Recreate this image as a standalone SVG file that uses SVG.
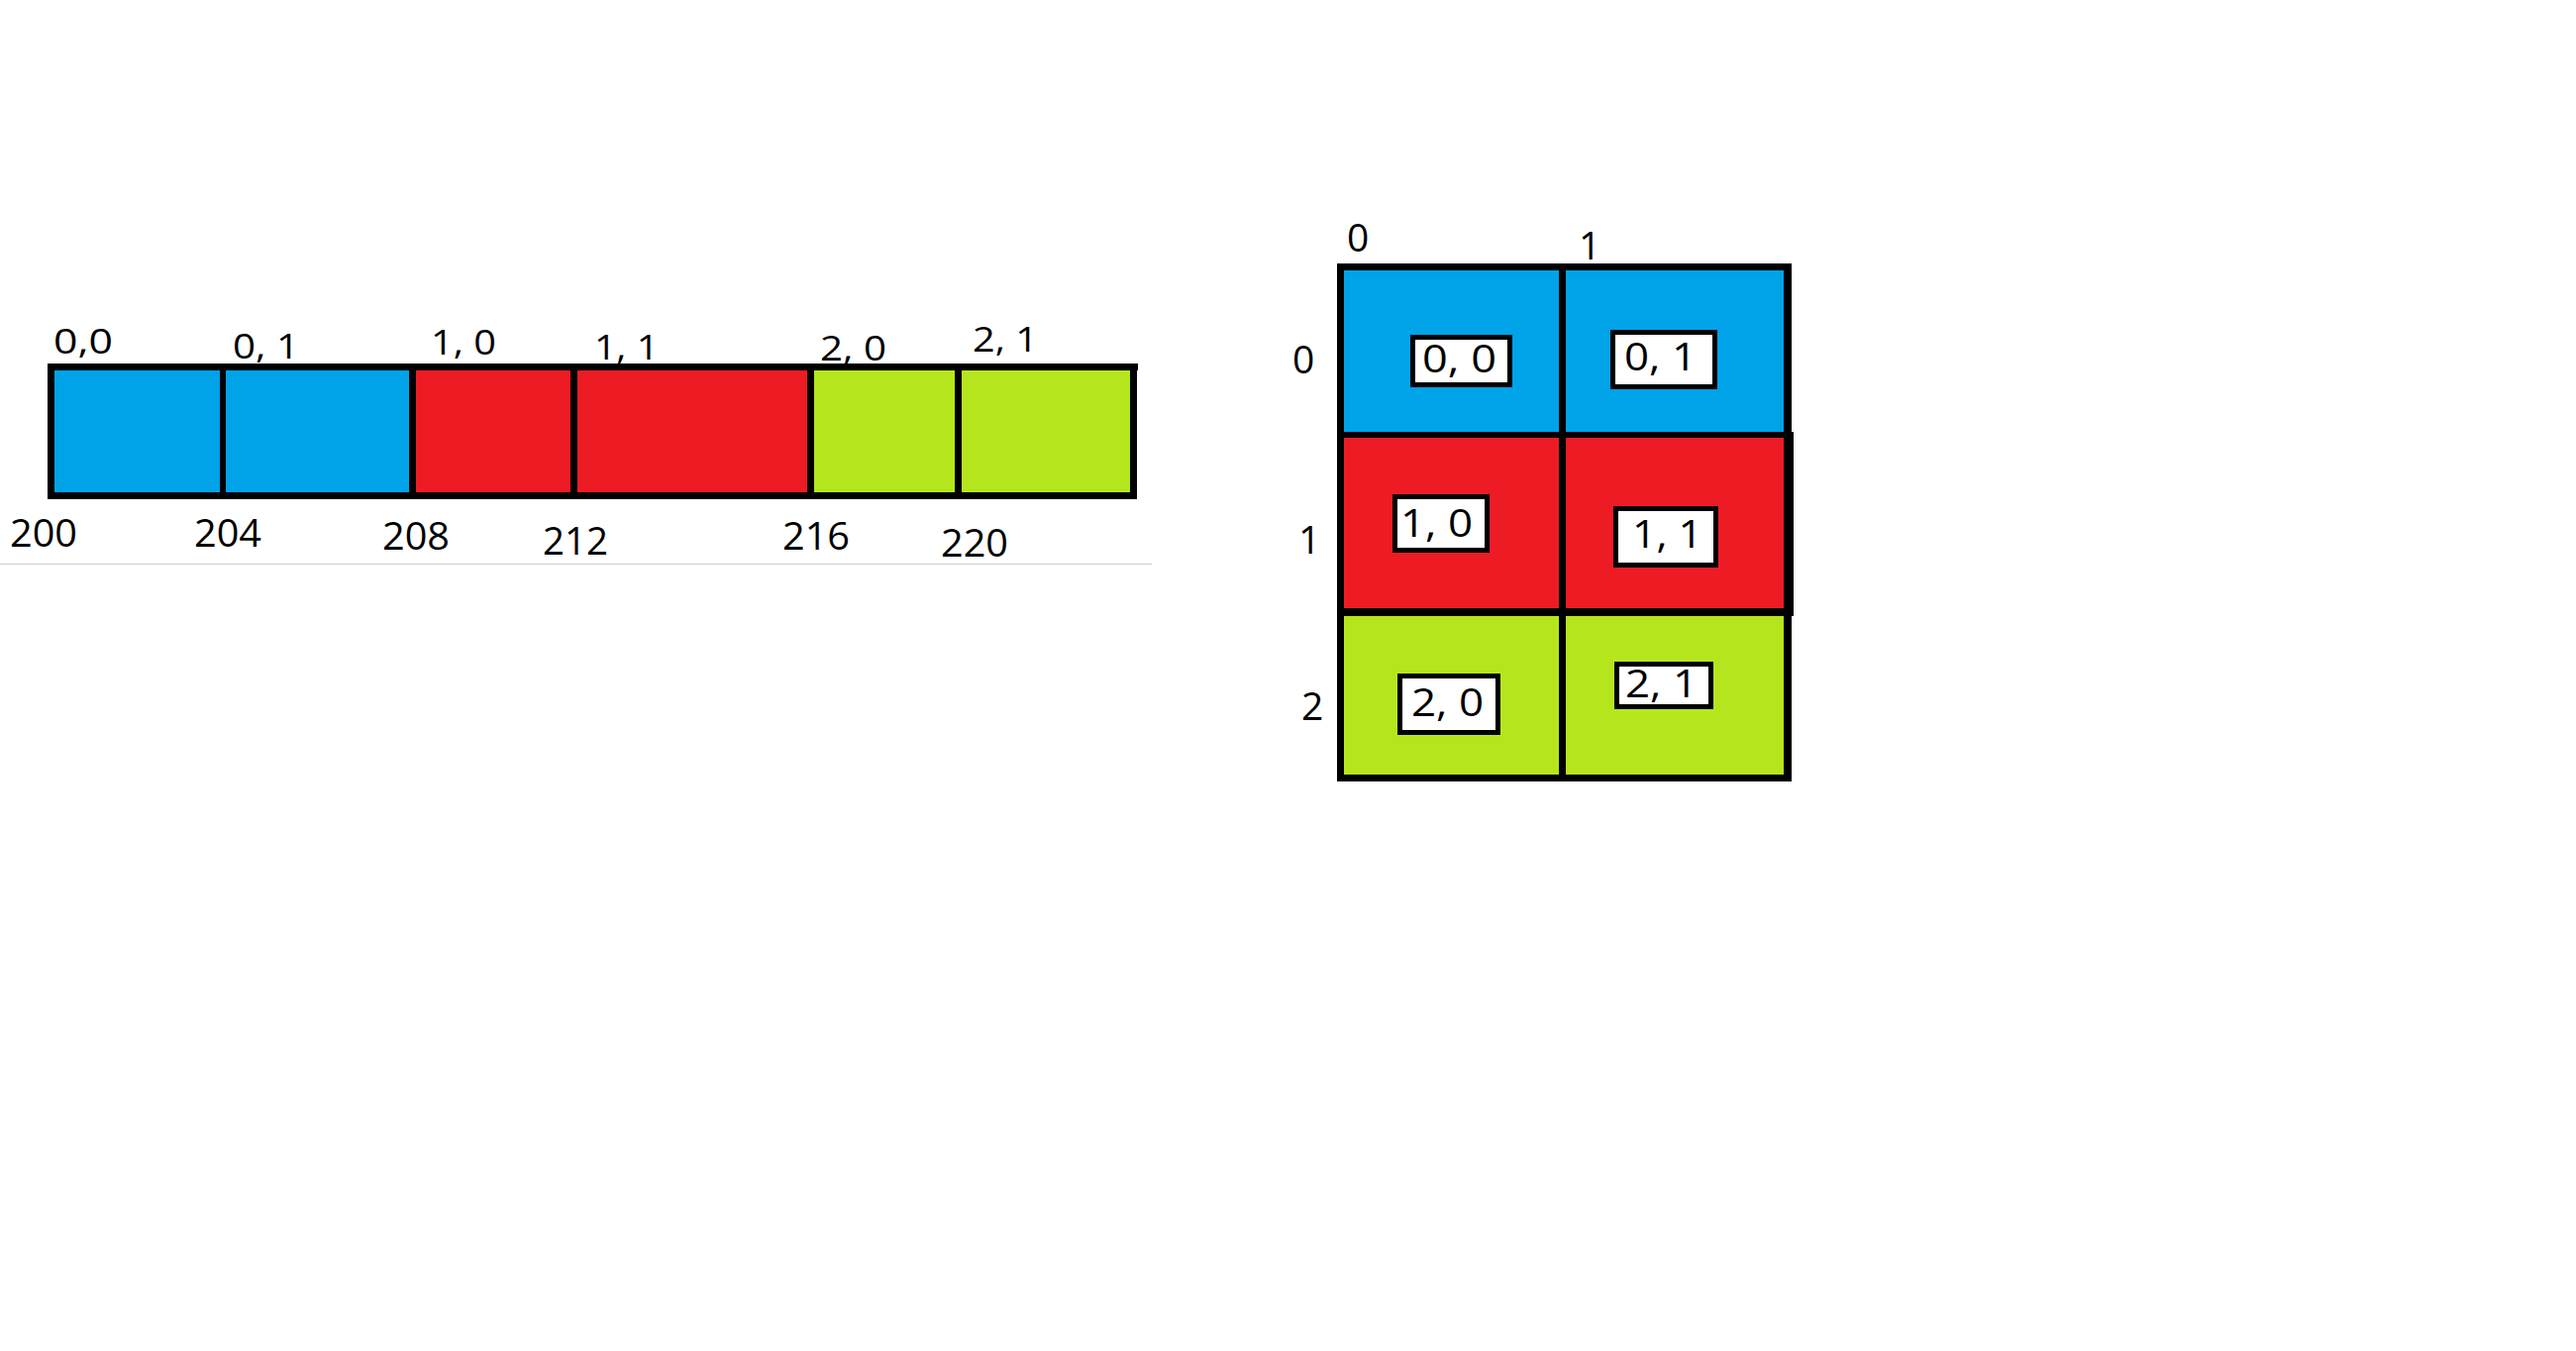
<svg xmlns="http://www.w3.org/2000/svg" width="2601" height="1364" viewBox="0 0 2601 1364">
<style>
.b{fill:#00A2E8}.r{fill:#ED1C24}.g{fill:#B5E61D}.k{fill:#000}
.t{font-family:"Open Sans","Liberation Sans",sans-serif;font-size:39px;fill:#000}
.s{font-family:"Open Sans","Liberation Sans",sans-serif;font-size:35px;fill:#000}
.box{fill:#fff;stroke:#000;stroke-width:5}
</style>
<rect width="2601" height="1364" fill="#fff"/>
<line x1="0" y1="569.5" x2="1163" y2="569.5" stroke="#d0d6de" stroke-width="1.5"/>
<g id="array">
<g id="a00"><rect class="b" x="55" y="374" width="167" height="123"/><text class="s" x="54" y="357" textLength="60" lengthAdjust="spacingAndGlyphs">0,0</text><text class="t" x="10" y="552" textLength="68" lengthAdjust="spacingAndGlyphs">200</text></g>
<g id="a01"><rect class="b" x="228" y="374" width="185" height="123"/><text class="s" x="235" y="362" textLength="67" lengthAdjust="spacingAndGlyphs">0, 1</text><text class="t" x="196" y="552" textLength="68" lengthAdjust="spacingAndGlyphs">204</text></g>
<g id="a10"><rect class="r" x="420" y="374" width="156" height="123"/><text class="s" x="435" y="358" textLength="66" lengthAdjust="spacingAndGlyphs">1, 0</text><text class="t" x="386" y="555" textLength="68" lengthAdjust="spacingAndGlyphs">208</text></g>
<g id="a11"><rect class="r" x="583" y="374" width="232" height="123"/><text class="s" x="600" y="363" textLength="65" lengthAdjust="spacingAndGlyphs">1, 1</text><text class="t" x="548" y="560" textLength="66" lengthAdjust="spacingAndGlyphs">212</text></g>
<g id="a20"><rect class="g" x="822" y="374" width="142" height="123"/><text class="s" x="828" y="364" textLength="67" lengthAdjust="spacingAndGlyphs">2, 0</text><text class="t" x="790" y="555" textLength="68" lengthAdjust="spacingAndGlyphs">216</text></g>
<g id="a21"><rect class="g" x="971" y="374" width="170" height="123"/><text class="s" x="982" y="355" textLength="66" lengthAdjust="spacingAndGlyphs">2, 1</text><text class="t" x="950" y="562" textLength="68" lengthAdjust="spacingAndGlyphs">220</text></g>
<g id="array-borders">
<rect class="k" x="48" y="367" width="1101" height="7"/>
<rect class="k" x="48" y="497" width="1100" height="7"/>
<rect class="k" x="48" y="367" width="7" height="137"/>
<rect class="k" x="222" y="367" width="6" height="137"/>
<rect class="k" x="413" y="367" width="7" height="137"/>
<rect class="k" x="576" y="367" width="7" height="137"/>
<rect class="k" x="815" y="367" width="7" height="137"/>
<rect class="k" x="964" y="367" width="7" height="137"/>
<rect class="k" x="1141" y="367" width="7" height="137"/>
</g>
</g>
<g id="grid">
<g id="g00"><rect class="b" x="1357" y="273" width="217" height="163"/><rect class="box" x="1426.5" y="340.5" width="98" height="48"/><text class="t" x="1436" y="376" textLength="75" lengthAdjust="spacingAndGlyphs">0, 0</text></g>
<g id="g01"><rect class="b" x="1581" y="273" width="220" height="163"/><rect class="box" x="1628.5" y="335.5" width="103" height="55"/><text class="t" x="1640" y="374" textLength="73" lengthAdjust="spacingAndGlyphs">0, 1</text></g>
<g id="g10"><rect class="r" x="1357" y="442" width="217" height="172"/><rect class="box" x="1408.5" y="501.5" width="93" height="54"/><text class="t" x="1414" y="542" textLength="73" lengthAdjust="spacingAndGlyphs">1, 0</text></g>
<g id="g11"><rect class="r" x="1581" y="442" width="220" height="172"/><rect class="box" x="1631.5" y="513.5" width="101" height="57"/><text class="t" x="1648" y="553" textLength="71" lengthAdjust="spacingAndGlyphs">1, 1</text></g>
<g id="g20"><rect class="g" x="1357" y="622" width="217" height="160"/><rect class="box" x="1413.5" y="682.5" width="99" height="57"/><text class="t" x="1425" y="723" textLength="73" lengthAdjust="spacingAndGlyphs">2, 0</text></g>
<g id="g21"><rect class="g" x="1581" y="622" width="220" height="160"/><rect class="box" x="1632.5" y="670.5" width="95" height="43"/><text class="t" x="1641" y="704" textLength="73" lengthAdjust="spacingAndGlyphs">2, 1</text></g>
<g id="grid-borders">
<rect class="k" x="1350" y="266" width="459" height="7"/>
<rect class="k" x="1350" y="436" width="461" height="6"/>
<rect class="k" x="1350" y="614" width="461" height="8"/>
<rect class="k" x="1350" y="782" width="459" height="7"/>
<rect class="k" x="1350" y="266" width="7" height="523"/>
<rect class="k" x="1574" y="266" width="7" height="523"/>
<rect class="k" x="1801" y="266" width="8" height="523"/>
<rect class="k" x="1809" y="436" width="2" height="186"/>
</g>
<g id="headers">
<text class="t" x="1360" y="254">0</text>
<text class="t" x="1594" y="262">1</text>
<text class="t" x="1305" y="377">0</text>
<text class="t" x="1311" y="559">1</text>
<text class="t" x="1314" y="727">2</text>
</g>
</g>
</svg>
